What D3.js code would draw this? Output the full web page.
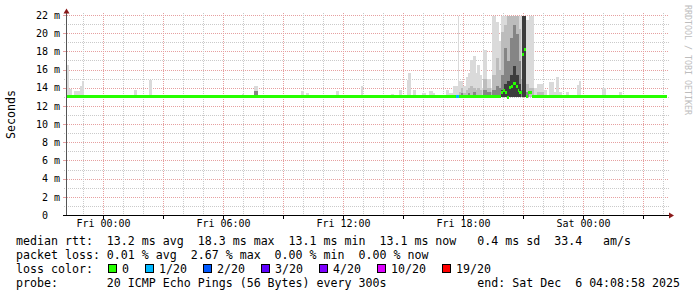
<!DOCTYPE html>
<html>
<head>
<meta charset="utf-8">
<script src="https://cdn.jsdelivr.net/npm/d3@7"></script>
<style>
  html, body { margin: 0; padding: 0; background: #fff; }
  svg text { font-family: 'DejaVu Sans Mono', monospace; white-space: pre; }
</style>
</head>
<body>
<div id="chart"></div>
<script>
const WIDTH = 697;
const HEIGHT = 297;

const GRAPH_START = new Date(2025, 11, 4, 22, 8, 58);
const GRAPH_END = new Date(2025, 11, 6, 4, 8, 58);
const Y_MAX = 22;

// smoke: one entry per sampled column group (start, minutes, top of each shade in ms)
const SMOKE_START = [
  'Thu 22:09', 'Thu 22:15', 'Thu 22:24', 'Thu 22:30', 'Thu 22:48', 'Thu 22:54',
  'Fri 01:32', 'Fri 02:17', 'Fri 06:56', 'Fri 07:32', 'Fri 08:32', 'Fri 09:53',
  'Fri 10:08', 'Fri 11:38', 'Fri 12:53', 'Fri 12:59', 'Fri 13:26', 'Fri 13:53',
  'Fri 14:23', 'Fri 14:47', 'Fri 15:11', 'Fri 15:14', 'Fri 15:29', 'Fri 15:56',
  'Fri 16:17', 'Fri 16:29', 'Fri 17:08', 'Fri 17:17', 'Fri 17:29', 'Fri 17:38',
  'Fri 17:44', 'Fri 17:47', 'Fri 17:53', 'Fri 17:59', 'Fri 18:08', 'Fri 18:14',
  'Fri 18:20', 'Fri 18:29', 'Fri 18:38', 'Fri 18:41', 'Fri 18:50', 'Fri 18:56',
  'Fri 18:59', 'Fri 19:11', 'Fri 19:23', 'Fri 19:26', 'Fri 19:38', 'Fri 19:47',
  'Fri 19:53', 'Fri 20:02', 'Fri 20:11', 'Fri 20:20', 'Fri 20:29', 'Fri 20:38',
  'Fri 20:47', 'Fri 20:53', 'Fri 20:56', 'Fri 21:06', 'Fri 21:15', 'Fri 21:30',
  'Fri 21:39', 'Fri 22:00', 'Fri 22:15', 'Fri 22:30', 'Fri 22:36', 'Fri 22:45',
  'Fri 23:06', 'Fri 23:39', 'Fri 23:45', 'Sat 00:54', 'Sat 01:45',
];
const SMOKE_MINUTES = [
  6, 9, 6, 18, 6, 6,
  9, 9, 6, 12, 15, 9,
  9, 9, 6, 6, 3, 3,
  9, 9, 3, 9, 9, 12,
  12, 6, 9, 12, 9, 6,
  3, 6, 6, 9, 6, 6,
  9, 9, 3, 9, 6, 3,
  12, 12, 3, 12, 9, 6,
  9, 9, 9, 9, 9, 9,
  6, 3, 10, 9, 15, 9,
  21, 9, 15, 6, 9, 9,
  9, 6, 6, 12, 9,
];
const SMOKE_HI = [
  16.6, 13.9, 13.3, 13.7, 14.3, 14.8,
  13.8, 14.9, 13.4, 14.2, 13.3, 13.7,
  13.5, 13.7, 14.3, 13.3, 13.3, 13.3,
  13.4, 13.8, 14.9, 15.7, 13.8, 13.5,
  13.7, 13.5, 13.8, 13.5, 14.2, 14.3,
  22.0, 14.8, 14.8, 14.2, 15.2, 15.7,
  17.1, 17.5, 15.7, 16.6, 15.5, 14.0,
  18.2, 15.0, 14.0, 22.0, 21.3, 19.2,
  22.0, 22.0, 22.0, 22.0, 22.0, 22.0,
  22.0, 22.0, 22.0, 21.5, 22.0, 14.0,
  14.5, 13.8, 14.7, 13.6, 15.2, 13.6,
  13.6, 14.4, 14.8, 14.0, 13.6,
];
const SMOKE_MID = [
  null, null, null, null, null, null,
  null, null, null, null, null, null,
  null, null, null, null, null, null,
  null, null, null, null, null, null,
  null, null, null, null, null, null,
  null, 13.6, 14.0, 13.5, 13.8, 14.0,
  14.2, 14.0, 13.8, 14.0, 13.8, null,
  15.0, 14.0, 13.6, 15.5, 17.3, 16.0,
  20.2, 21.0, 22.0, 22.0, 22.0, 22.0,
  20.5, 15.0, 22.0, 14.5, 14.0, null,
  13.6, null, null, null, null, null,
  null, null, null, null, null,
];
const SMOKE_CORE = [
  null, null, null, null, null, null,
  null, null, null, 13.7, null, null,
  null, null, null, null, null, null,
  null, null, null, null, null, null,
  null, null, null, null, null, null,
  null, null, 13.5, null, null, 13.5,
  null, 13.6, null, null, null, null,
  13.8, 13.6, null, 13.8, 14.2, 14.0,
  15.5, 18.4, 17.0, 19.5, 21.0, 20.0,
  17.0, 13.8, 22.0, 13.6, null, null,
  null, null, null, null, null, null,
  null, null, null, null, null,
];
const SMOKE_DEEP = [
  null, null, null, null, null, null,
  null, null, null, null, null, null,
  null, null, null, null, null, null,
  null, null, null, null, null, null,
  null, null, null, null, null, null,
  null, null, null, null, null, null,
  null, null, null, null, null, null,
  null, null, null, null, null, null,
  13.8, 14.5, 14.8, 15.5, 16.5, 15.5,
  14.5, null, 22.0, null, null, null,
  null, null, null, null, null, null,
  null, null, null, null, null,
];
const SMOKE_FLOOR_MS = 13.0;

// median rtt steps (each runs until the next one starts)
const MEDIAN_START = [
  'Thu 22:09', 'Fri 17:38', 'Fri 17:47', 'Fri 19:53', 'Fri 19:59', 'Fri 20:05',
  'Fri 20:11', 'Fri 20:17', 'Fri 20:23', 'Fri 20:29', 'Fri 20:38', 'Fri 20:44',
  'Fri 20:47', 'Fri 20:56', 'Fri 21:02', 'Fri 21:08', 'Fri 21:14', 'Fri 21:26',
];
const MEDIAN_MS = [
  13.1, 13.1, 13.1, 13.5, 13.8, 13.5,
  13.0, 14.1, 14.2, 14.5, 14.2, 13.8,
  13.5, 17.7, 18.3, 13.1, 13.5, 13.1,
];
const MEDIAN_LOSS = [
  0, 1, 0, 0, 0, 0,
  0, 0, 0, 0, 0, 0,
  0, 0, 0, 0, 0, 0,
];

const LOSS_LABELS = ['0', '1/20', '2/20', '3/20', '4/20', '10/20', '19/20'];
const LOSS_COLOURS = ['#26ff00', '#00b8ff', '#0059ff', '#5e00ff', '#7e00ff', '#dd00ff', '#ff0000'];

const LEGEND_LINES = [
  'median rtt:  13.2 ms avg  18.3 ms max  13.1 ms min  13.1 ms now   0.4 ms sd  33.4   am/s',
  'packet loss: 0.01 % avg  2.67 % max  0.00 % min  0.00 % now',
  'loss color:',
  'probe:       20 ICMP Echo Pings (56 Bytes) every 300s             end: Sat Dec  6 04:08:58 2025',
];

const DAYS = {Thu: 4, Fri: 5, Sat: 6};
function at(s) {
  const [day, hm] = s.split(' ');
  const [h, m] = hm.split(':').map(Number);
  return new Date(2025, 11, DAYS[day], h, m);
}

const crisp = v => Math.round(v - 0.5) + 0.5;

const svg = d3.select('#chart').append('svg')
  .attr('width', WIDTH)
  .attr('height', HEIGHT)
  .attr('viewBox', `0 0 ${WIDTH} ${HEIGHT}`);

svg.append('rect').attr('width', WIDTH).attr('height', HEIGHT).attr('fill', '#fff');

const x = d3.scaleTime().domain([GRAPH_START, GRAPH_END]).range([66.5, 666.5]);
const y = d3.scaleLinear().domain([0, Y_MAX]).range([215.5, 15.5]);

// Grid
const grid = svg.append('g').attr('shape-rendering', 'crispEdges').attr('stroke-width', 1)
  .attr('stroke-dasharray', '1,1');

const ms = d3.range(1, Y_MAX + 1);
grid.selectAll('.hminor').data(ms.filter(d => d % 2)).join('line')
  .attr('x1', 64).attr('x2', 669)
  .attr('y1', d => crisp(y(d))).attr('y2', d => crisp(y(d)))
  .attr('stroke', '#cacaca');
grid.selectAll('.hmajor').data(ms.filter(d => d % 2 === 0)).join('line')
  .attr('x1', 63).attr('x2', 669)
  .attr('y1', d => crisp(y(d))).attr('y2', d => crisp(y(d)))
  .attr('stroke', '#e6a0a0');

const hours = d3.timeHour.range(GRAPH_START, GRAPH_END);
grid.selectAll('.vminor').data(hours.filter(d => d.getHours() % 3)).join('line')
  .attr('x1', d => crisp(x(d))).attr('x2', d => crisp(x(d)))
  .attr('y1', 13).attr('y2', 215)
  .attr('stroke', '#cacaca');
grid.selectAll('.vmajor').data(hours.filter(d => d.getHours() % 3 === 0)).join('line')
  .attr('x1', d => crisp(x(d))).attr('x2', d => crisp(x(d)))
  .attr('y1', 13).attr('y2', 215)
  .attr('stroke', '#e6a0a0');

// Smoke
const smoke = svg.append('g').attr('shape-rendering', 'crispEdges');
const shades = [
  [SMOKE_HI, '#dadada'],
  [SMOKE_MID, '#bcbcbc'],
  [SMOKE_CORE, '#858585'],
  [SMOKE_DEEP, '#3c3c3c'],
];
for (const [values, colour] of shades) {
  const rows = SMOKE_START.map((s, i) => ({t: at(s), mins: SMOKE_MINUTES[i], v: values[i]}))
    .filter(d => d.v != null);
  smoke.selectAll(null).data(rows).join('rect')
    .attr('x', d => x(d.t))
    .attr('width', d => x(d3.timeMinute.offset(d.t, d.mins)) - x(d.t))
    .attr('y', d => y(d.v))
    .attr('height', d => y(SMOKE_FLOOR_MS) - y(d.v))
    .attr('fill', colour);
}

// Median line, coloured by loss
const steps = MEDIAN_START.map((s, i) => ({
  t0: i === 0 ? GRAPH_START : at(s),
  t1: i + 1 < MEDIAN_START.length ? at(MEDIAN_START[i + 1]) : GRAPH_END,
  v: MEDIAN_MS[i],
  loss: MEDIAN_LOSS[i],
}));
svg.append('g').attr('shape-rendering', 'crispEdges')
  .selectAll('path').data(steps).join('path')
  .attr('d', d => `M${x(d.t0)},${y(d.v)}H${x(d.t1)}`)
  .attr('stroke', d => LOSS_COLOURS[d.loss])
  .attr('stroke-width', 3)
  .attr('fill', 'none');

// Axes
const xAxis = d3.axisBottom(x)
  .tickValues(hours.filter(d => d.getHours() % 3 === 0))
  .tickSize(3)
  .tickPadding(1.5)
  .offset(0)
  .tickFormat(d => d.getHours() % 6 === 0 ? d3.timeFormat('%a %H:%M')(d) : '');
const gx = svg.append('g').attr('transform', 'translate(0, 215.5)').call(xAxis);
gx.select('.domain').remove();
gx.selectAll('.tick line').attr('stroke', '#000').attr('shape-rendering', 'crispEdges');
gx.selectAll('.tick text').attr('font-size', '10px').attr('fill', '#000')
  .attr('font-family', 'DejaVu Sans Mono');

const yAxis = d3.axisLeft(y)
  .tickValues(d3.range(0, Y_MAX + 1, 2))
  .tickSize(3)
  .tickPadding(3.5)
  .offset(0)
  .tickFormat(d => d === 0 ? '0  ' : `${d} m`);
const gy = svg.append('g').attr('transform', 'translate(66.5, 0)').call(yAxis);
gy.select('.domain').remove();
gy.selectAll('.tick line').attr('stroke', '#e6a0a0').attr('shape-rendering', 'crispEdges');
gy.selectAll('.tick text').attr('font-size', '10px').attr('fill', '#000')
  .attr('font-family', 'DejaVu Sans Mono');

svg.append('line')
  .attr('x1', 66.5).attr('x2', 66.5).attr('y1', 12).attr('y2', 216)
  .attr('stroke', '#555').attr('shape-rendering', 'crispEdges');
svg.append('line')
  .attr('x1', 63).attr('x2', 670).attr('y1', 215.5).attr('y2', 215.5)
  .attr('stroke', '#000').attr('shape-rendering', 'crispEdges');
svg.append('path').attr('d', 'M66.5,8.5L69.5,13.5L63.5,13.5Z').attr('fill', '#8b1a1a');
svg.append('path').attr('d', 'M674,215.5L669,212.5L669,218.5Z').attr('fill', '#8b1a1a');

// Titles
svg.append('text')
  .attr('transform', `translate(15, ${y(Y_MAX / 2) - 1}) rotate(-90)`)
  .attr('text-anchor', 'middle')
  .attr('font-size', '11.62px')
  .text('Seconds');

svg.append('text')
  .attr('transform', 'translate(685, 5) rotate(90)')
  .attr('font-size', '8.3px')
  .attr('fill', '#bdbdbd')
  .text('RRDTOOL / TOBI OETIKER');

// Legend
const legend = svg.append('g').attr('font-size', '11.62px').attr('fill', '#000');
legend.selectAll('text').data(LEGEND_LINES).join('text')
  .attr('x', 16)
  .attr('y', (d, i) => 245 + i * 14)
  .text(d => d);

let boxX = 108.5;
LOSS_LABELS.forEach((label, i) => {
  legend.append('rect')
    .attr('x', boxX).attr('y', 264.5).attr('width', 8).attr('height', 8)
    .attr('fill', LOSS_COLOURS[i]).attr('stroke', '#000')
    .attr('shape-rendering', 'crispEdges');
  legend.append('text').attr('x', boxX + 13.5).attr('y', 273).text(label);
  boxX += 30 + 7 * label.length;
});
</script>
</body>
</html>
